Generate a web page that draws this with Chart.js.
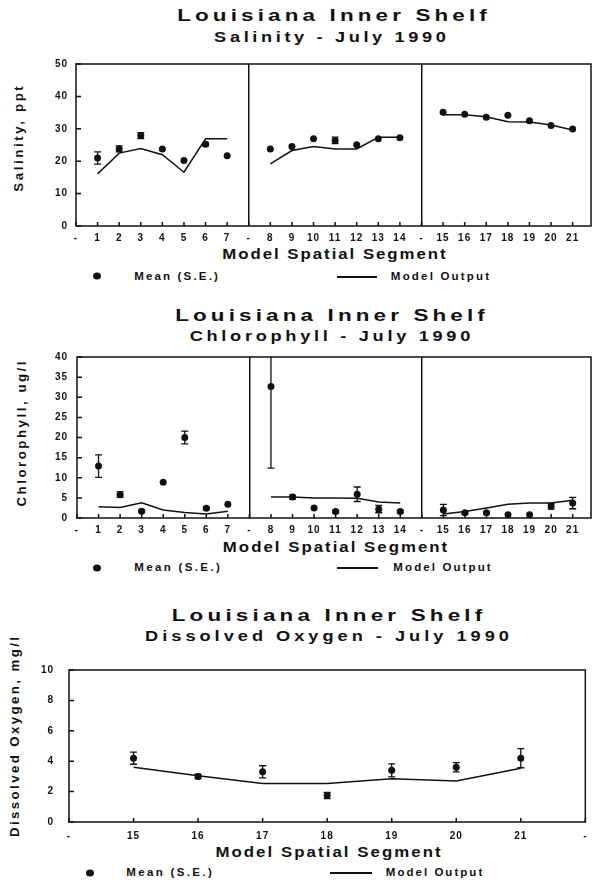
<!DOCTYPE html>
<html>
<head>
<meta charset="utf-8">
<title>Louisiana Inner Shelf - July 1990</title>
<script src="https://cdn.jsdelivr.net/npm/chart.js@4.4.0/dist/chart.umd.min.js"></script>
<style>
  body { margin: 0; background: #fff; }
  #page { position: relative; width: 595px; height: 881px; overflow: hidden;
          font-family: 'Liberation Sans', Arial, sans-serif; font-weight: bold; color: #111; }
  canvas { position: absolute; left: 0; }
  .lbl { position: absolute; white-space: nowrap; line-height: 1; }
  .dot { position: absolute; width: 8px; height: 7px; border-radius: 50%; background: #111;
         transform: translate(-50%, -50%); }
  .dash { position: absolute; height: 1.5px; background: #111; }
</style>
</head>
<body>
<div id="page">
  <!-- salinity -->
  <div class="lbl" data-x="332" data-y="16" data-w="314" data-sx="1.4" style="font-size:16px">Louisiana Inner Shelf</div>
  <div class="lbl" data-x="330" data-y="37" data-w="235" data-sx="1.3" style="font-size:14px">Salinity - July 1990</div>
  <div class="lbl" data-x="19" data-y="139" data-w="108" data-sx="1.1" data-rot="1" style="font-size:12px">Salinity, ppt</div>
  <div class="lbl" data-x="334" data-y="254" data-w="225" data-sx="1.2" style="font-size:14px">Model Spatial Segment</div>
  <div class="dot" style="left:97px; top:276px"></div>
  <div class="lbl" data-x="176" data-y="277" data-w="86" data-sx="1.15" style="font-size:10px">Mean (S.E.)</div>
  <div class="dash" style="left:337px; top:276px; width:40px"></div>
  <div class="lbl" data-x="440" data-y="277" data-w="100" data-sx="1.15" style="font-size:10px">Model Output</div>
  <canvas id="salChart" width="595" height="200" style="top:50px"></canvas>

  <!-- chlorophyll -->
  <div class="lbl" data-x="330" data-y="316" data-w="314" data-sx="1.4" style="font-size:16px">Louisiana Inner Shelf</div>
  <div class="lbl" data-x="330" data-y="336" data-w="284" data-sx="1.3" style="font-size:14px">Chlorophyll - July 1990</div>
  <div class="lbl" data-x="22" data-y="434" data-w="148" data-sx="1.1" data-rot="1" style="font-size:12px">Chlorophyll, ug/l</div>
  <div class="lbl" data-x="335" data-y="547" data-w="226" data-sx="1.2" style="font-size:14px">Model Spatial Segment</div>
  <div class="dot" style="left:97px; top:568px"></div>
  <div class="lbl" data-x="177" data-y="568" data-w="88" data-sx="1.15" style="font-size:10px">Mean (S.E.)</div>
  <div class="dash" style="left:337px; top:567px; width:41px"></div>
  <div class="lbl" data-x="442" data-y="568" data-w="99" data-sx="1.15" style="font-size:10px">Model Output</div>
  <canvas id="chlChart" width="595" height="200" style="top:342px"></canvas>

  <!-- dissolved oxygen -->
  <div class="lbl" data-x="327" data-y="616" data-w="315" data-sx="1.4" style="font-size:16px">Louisiana Inner Shelf</div>
  <div class="lbl" data-x="327" data-y="636" data-w="368" data-sx="1.3" style="font-size:14px">Dissolved Oxygen - July 1990</div>
  <div class="lbl" data-x="15" data-y="737" data-w="202" data-sx="1.1" data-rot="1" style="font-size:12px">Dissolved Oxygen, mg/l</div>
  <div class="lbl" data-x="328" data-y="852" data-w="227" data-sx="1.2" style="font-size:14px">Model Spatial Segment</div>
  <div class="dot" style="left:90px; top:873px"></div>
  <div class="lbl" data-x="169" data-y="873" data-w="88" data-sx="1.15" style="font-size:10px">Mean (S.E.)</div>
  <div class="dash" style="left:330px; top:872px; width:42px"></div>
  <div class="lbl" data-x="434" data-y="873" data-w="98" data-sx="1.15" style="font-size:10px">Model Output</div>
  <canvas id="doChart" width="595" height="197" style="top:649px"></canvas>
</div>

<script>
// x positions: '-' marks the gaps between the three groups of segments
var xLabels = ['-', '1', '2', '3', '4', '5', '6', '7',
               '-', '8', '9', '10', '11', '12', '13', '14',
               '-', '15', '16', '17', '18', '19', '20', '21'];
var segments = ['1', '2', '3', '4', '5', '6', '7', '8', '9', '10', '11',
                '12', '13', '14', '15', '16', '17', '18', '19', '20', '21'];

// salinity, ppt
var salMean  = [21.0, 23.8, 27.9, 23.8, 20.2, 25.2, 21.7,
                23.8, 24.5, 26.9, 26.4, 25.1, 26.9, 27.2,
                35.1, 34.5, 33.6, 34.2, 32.5, 31.0, 29.9];
var salSE    = [1.9, 0.9, 0.9, 0, 0, 0.5, 0,
                0, 0, 0, 1.0, 0, 0, 0,
                0, 0, 0, 0, 0, 0, 0];
var salModel = [16.1, 22.5, 23.9, 22.0, 16.6, 26.9, 26.9,
                19.2, 23.3, 24.5, 23.8, 23.8, 27.4, 27.4,
                34.3, 34.3, 33.7, 32.2, 32.1, 31.2, 29.6];

// chlorophyll, ug/l
var chlMean  = [12.9, 5.8, 1.7, 8.9, 20.0, 2.4, 3.4,
                32.7, 5.2, 2.5, 1.6, 5.9, 2.2, 1.6,
                2.0, 1.3, 1.3, 0.8, 0.8, 2.9, 3.7];
var chlSE    = [2.8, 0.7, 0.3, 0, 1.6, 0.3, 0,
                20.3, 0.5, 0, 0.3, 1.8, 0.9, 0.3,
                1.4, 0.3, 0.3, 0, 0, 0.7, 1.4];
var chlModel = [2.8, 2.6, 3.8, 2.0, 1.35, 1.0, 1.7,
                5.2, 5.2, 5.0, 5.0, 4.9, 4.0, 3.7,
                1.0, 1.6, 2.5, 3.4, 3.7, 3.7, 4.4];

// dissolved oxygen, mg/l (segments 15-21 only)
var doLabels   = ['-', '15', '16', '17', '18', '19', '20', '21', '-'];
var doSegments = ['15', '16', '17', '18', '19', '20', '21'];
var doMean  = [4.2, 3.0, 3.3, 1.74, 3.4, 3.6, 4.2];
var doSE    = [0.4, 0.15, 0.4, 0.2, 0.43, 0.3, 0.63];
var doModel = [3.6, 3.04, 2.54, 2.54, 2.84, 2.7, 3.54];

// stretch each text label to the width it has in the picture
document.querySelectorAll('.lbl').forEach(function (el) {
    var sx = +el.dataset.sx;
    var n = el.textContent.length;
    var ls = (el.dataset.w / sx - el.offsetWidth) / n;
    el.style.letterSpacing = ls + 'px';
    el.style.paddingLeft = ls + 'px';
    el.style.left = el.dataset.x + 'px';
    el.style.top = el.dataset.y + 'px';
    el.style.transform = 'translate(-50%, -50%)' + (el.dataset.rot ? ' rotate(-90deg)' : '') + ' scaleX(' + sx + ')';
});

function toPoints(labels, segs, values) {
    return labels.map(function (lab, i) {
        var k = segs.indexOf(lab);
        return { x: i, y: k < 0 ? null : values[k] };
    });
}

// box round the plot, inward tick marks
var framePlugin = {
    id: 'frame',
    beforeDraw: function (chart) {
        chart.ctx.letterSpacing = '1px';
    },
    afterDraw: function (chart) {
        var ctx = chart.ctx, a = chart.chartArea, xs = chart.scales.x, ys = chart.scales.y;
        ctx.save();
        ctx.strokeStyle = '#111';
        ctx.lineWidth = 1.5;
        ctx.strokeRect(a.left, a.top, a.right - a.left, a.bottom - a.top);
        ctx.beginPath();
        xs.ticks.forEach(function (t) {
            var px = xs.getPixelForValue(t.value);
            ctx.moveTo(px, a.bottom);
            ctx.lineTo(px, a.bottom - 4);
        });
        ys.ticks.forEach(function (t) {
            var py = ys.getPixelForValue(t.value);
            ctx.moveTo(a.left, py);
            ctx.lineTo(a.left + 5, py);
        });
        ctx.stroke();
        ctx.restore();
    }
};

// standard error bars for datasets that carry an 'errors' list
var errorBars = {
    id: 'errorBars',
    afterDatasetsDraw: function (chart) {
        var ctx = chart.ctx, a = chart.chartArea, xs = chart.scales.x, ys = chart.scales.y;
        ctx.save();
        ctx.beginPath();
        ctx.rect(a.left, a.top, a.right - a.left, a.bottom - a.top);
        ctx.clip();
        ctx.strokeStyle = '#111';
        ctx.lineWidth = 1.3;
        chart.data.datasets.forEach(function (ds) {
            if (!ds.errors) return;
            ds.data.forEach(function (p, i) {
                var e = ds.errors[i];
                if (p.y == null || !e) return;
                var px = xs.getPixelForValue(p.x);
                var hi = ys.getPixelForValue(p.y + e);
                var lo = ys.getPixelForValue(p.y - e);
                ctx.beginPath();
                ctx.moveTo(px, hi); ctx.lineTo(px, lo);
                ctx.moveTo(px - 3.5, hi); ctx.lineTo(px + 3.5, hi);
                ctx.moveTo(px - 3.5, lo); ctx.lineTo(px + 3.5, lo);
                ctx.stroke();
            });
        });
        ctx.restore();
    }
};

function makeChart(id, labels, segs, mean, se, model, yMax, yStep, o) {
    var tickFont = { family: "'Liberation Sans', Arial, sans-serif", size: 10, weight: 'bold' };
    return new Chart(document.getElementById(id), {
        type: 'line',
        data: {
            datasets: [
                {
                    label: 'Mean (S.E.)',
                    data: toPoints(labels, segs, mean),
                    errors: toPoints(labels, segs, se).map(function (p) { return p.y; }),
                    showLine: false,
                    pointRadius: 3.5,
                    pointBackgroundColor: '#111',
                    pointBorderColor: '#111',
                    pointBorderWidth: 0
                },
                {
                    label: 'Model Output',
                    data: toPoints(labels, segs, model),
                    borderColor: '#111',
                    borderWidth: 1.5,
                    pointRadius: 0,
                    spanGaps: false,
                    tension: 0
                }
            ]
        },
        options: {
            responsive: false,
            animation: false,
            layout: { padding: { top: 7, right: o.padRight, left: 0, bottom: 0 } },
            plugins: { legend: { display: false }, tooltip: { enabled: false } },
            scales: {
                x: {
                    type: 'linear',
                    min: 0,
                    max: o.xMax,
                    afterBuildTicks: function (s) {
                        s.ticks = labels.map(function (l, i) { return { value: i }; });
                    },
                    afterFit: function (s) { s.height = 24; },
                    ticks: {
                        autoSkip: false, maxRotation: 0, padding: o.xPad,
                        color: '#111', font: tickFont,
                        callback: function (v) { return labels[v]; }
                    },
                    grid: {
                        drawTicks: false,
                        lineWidth: 1.5,
                        color: function (c) {
                            return c.tick && o.dividers.indexOf(c.tick.value) >= 0 ? '#111' : 'rgba(0,0,0,0)';
                        }
                    },
                    border: { display: false }
                },
                y: {
                    min: 0,
                    max: yMax,
                    afterFit: function (s) { s.width = o.left; },
                    ticks: { stepSize: yStep, padding: o.yPad, color: '#111', font: tickFont },
                    grid: { display: false, drawTicks: false },
                    border: { display: false }
                }
            }
        },
        plugins: [framePlugin, errorBars]
    });
}

makeChart('salChart', xLabels, segments, salMean, salSE, salModel, 50, 10,
          { left: 76, padRight: 0, xMax: 23.85, xPad: 6, yPad: 8, dividers: [8, 16] });
makeChart('chlChart', xLabels, segments, chlMean, chlSE, chlModel, 40, 5,
          { left: 77, padRight: 0, xMax: 23.85, xPad: 6, yPad: 9, dividers: [8, 16] });
makeChart('doChart', doLabels, doSegments, doMean, doSE, doModel, 10, 2,
          { left: 69, padRight: 6, xMax: 8, xPad: 8, yPad: 15, dividers: [] });
</script>
</body>
</html>
